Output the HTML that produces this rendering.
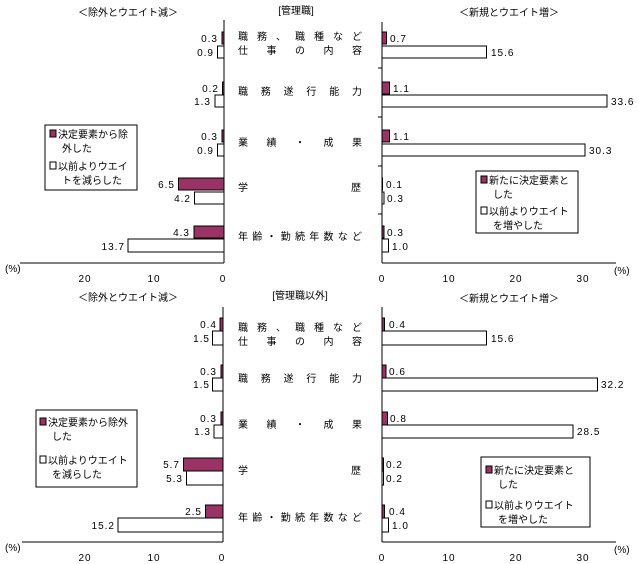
<!DOCTYPE html>
<html><head><meta charset="utf-8"><style>
html,body{margin:0;padding:0;background:#fff;}
svg{display:block;}
text{font-family:"Liberation Sans","Noto Sans CJK JP",sans-serif;font-size:10px;fill:#000;}
.v{font-family:"Liberation Mono",monospace;font-size:10px;letter-spacing:1px;}
.c{font-size:11px;}
</style></head><body>
<svg width="639" height="564" viewBox="0 0 639 564" xmlns="http://www.w3.org/2000/svg">
<g stroke="#000" stroke-width="1" shape-rendering="crispEdges">
<!-- TOP -->
<line x1="224" y1="20" x2="224" y2="263"/><line x1="20" y1="263" x2="224" y2="263"/>
<line x1="382" y1="22" x2="382" y2="263"/><line x1="382" y1="263" x2="616" y2="263"/>
<line x1="378" y1="68" x2="382" y2="68"/><line x1="378" y1="117" x2="382" y2="117"/><line x1="378" y1="166" x2="382" y2="166"/><line x1="378" y1="214" x2="382" y2="214"/>
<g fill="#993366">
<rect x="221.9" y="32" width="2.1" height="12"/><rect x="222.6" y="82" width="1.4" height="12"/><rect x="221.9" y="130" width="2.1" height="12"/><rect x="178.5" y="178" width="45.5" height="12"/><rect x="193.9" y="226" width="30.1" height="12"/>
<rect x="382" y="32" width="4.7" height="12"/><rect x="382" y="82" width="7.4" height="12"/><rect x="382" y="130" width="7.4" height="12"/><rect x="382" y="178" width="0.7" height="12"/><rect x="382" y="226" width="2" height="12"/>
</g>
<g fill="#fff">
<rect x="217.7" y="46" width="6.3" height="12"/><rect x="214.9" y="95" width="9.1" height="12"/><rect x="217.7" y="144" width="6.3" height="12"/><rect x="194.6" y="192" width="29.4" height="12"/><rect x="128.1" y="239" width="95.9" height="13"/>
<rect x="382" y="46" width="104.5" height="12"/><rect x="382" y="95" width="225.1" height="12"/><rect x="382" y="144" width="203" height="12"/><rect x="382" y="192" width="2" height="12"/><rect x="382" y="239" width="6.7" height="13"/>
</g>
<rect x="45" y="125" width="92" height="65" fill="#fff"/>
<rect x="476" y="171" width="102" height="62" fill="#fff"/>
<!-- BOTTOM -->
<line x1="223" y1="307" x2="223" y2="542"/><line x1="22" y1="542" x2="223" y2="542"/>
<line x1="382" y1="307" x2="382" y2="542"/><line x1="382" y1="542" x2="616" y2="542"/>
<g fill="#993366">
<rect x="220.2" y="318" width="2.8" height="13"/><rect x="220.9" y="365" width="2.1" height="13"/><rect x="220.9" y="412" width="2.1" height="13"/><rect x="183.7" y="458" width="39.3" height="13"/><rect x="205.7" y="505" width="17.3" height="13"/>
<rect x="382" y="318" width="2.7" height="13"/><rect x="382" y="365" width="4" height="13"/><rect x="382" y="412" width="5.4" height="13"/><rect x="382" y="458" width="1.3" height="13"/><rect x="382" y="505" width="2.7" height="13"/>
</g>
<g fill="#fff">
<rect x="212.6" y="331" width="10.4" height="14"/><rect x="212.6" y="378" width="10.4" height="13"/><rect x="214" y="425" width="9" height="13"/><rect x="186.4" y="471" width="36.6" height="14"/><rect x="118.1" y="518" width="104.9" height="14"/>
<rect x="382" y="331" width="104.5" height="14"/><rect x="382" y="378" width="215.7" height="13"/><rect x="382" y="425" width="191" height="13"/><rect x="382" y="471" width="1.3" height="14"/><rect x="382" y="518" width="6.7" height="14"/>
</g>
<rect x="36" y="410" width="101" height="77" fill="#fff"/>
<rect x="481" y="457" width="109" height="70" fill="#fff"/>
</g>
<!-- legend swatches -->
<g stroke="#000" stroke-width="1" shape-rendering="crispEdges">
<rect x="50" y="130" width="6" height="7" fill="#993366"/><rect x="50" y="162" width="6" height="7" fill="#fff"/>
<rect x="481" y="176" width="6" height="7" fill="#993366"/><rect x="481" y="207" width="6" height="7" fill="#fff"/>
<rect x="40" y="418" width="6" height="7" fill="#993366"/><rect x="40" y="456" width="6" height="7" fill="#fff"/>
<rect x="486" y="466" width="6" height="7" fill="#993366"/><rect x="486" y="501" width="6" height="7" fill="#fff"/>
</g>
<!-- legend text -->
<text x="58" y="138">決定要素から除</text><text x="62" y="152">外した</text>
<text x="58" y="170">以前よりウエイ</text><text x="62" y="184">トを減らした</text>
<text x="489" y="184">新たに決定要素と</text><text x="493" y="198">した</text>
<text x="489" y="215">以前よりウエイト</text><text x="493" y="229">を増やした</text>
<text x="48" y="426">決定要素から除外</text><text x="52" y="440">した</text>
<text x="48" y="464">以前よりウエイト</text><text x="52" y="478">を減らした</text>
<text x="494" y="474">新たに決定要素と</text><text x="498" y="488">した</text>
<text x="494" y="509">以前よりウエイト</text><text x="498" y="523">を増やした</text>
<!-- titles -->
<text x="128" y="16" text-anchor="middle">＜除外とウエイト減＞</text>
<text x="296" y="14" text-anchor="middle">[管理職]</text>
<text x="509" y="16" text-anchor="middle">＜新規とウエイト増＞</text>
<text x="128" y="301" text-anchor="middle">＜除外とウエイト減＞</text>
<text x="300" y="299" text-anchor="middle">[管理職以外]</text>
<text x="509" y="302" text-anchor="middle">＜新規とウエイト増＞</text>
<!-- category labels -->
<g class="c">
<text x="238" y="40" textLength="124" lengthAdjust="spacing">職務、職種など</text>
<text x="238" y="54" textLength="124" lengthAdjust="spacing">仕事の内容</text>
<text x="238" y="95" textLength="124" lengthAdjust="spacing">職務遂行能力</text>
<text x="238" y="146" textLength="124" lengthAdjust="spacing">業績・成果</text>
<text x="238" y="191">学</text><text x="351" y="191">歴</text>
<text x="238" y="240" textLength="124" lengthAdjust="spacing">年齢・勤続年数など</text>
<text x="238" y="331" textLength="124" lengthAdjust="spacing">職務、職種など</text>
<text x="238" y="345" textLength="124" lengthAdjust="spacing">仕事の内容</text>
<text x="238" y="382" textLength="124" lengthAdjust="spacing">職務遂行能力</text>
<text x="238" y="428" textLength="124" lengthAdjust="spacing">業績・成果</text>
<text x="238" y="474">学</text><text x="351" y="474">歴</text>
<text x="238" y="521" textLength="124" lengthAdjust="spacing">年齢・勤続年数など</text>
</g>
<!-- values -->
<g class="v" text-anchor="end">
<text x="218" y="42">0.3</text><text x="214" y="56">0.9</text>
<text x="219" y="92">0.2</text><text x="211" y="105">1.3</text>
<text x="218" y="140">0.3</text><text x="214" y="154">0.9</text>
<text x="175" y="188">6.5</text><text x="191" y="202">4.2</text>
<text x="190" y="236">4.3</text><text x="125" y="250">13.7</text>
<text x="217" y="328">0.4</text><text x="210" y="342">1.5</text>
<text x="217" y="375">0.3</text><text x="210" y="388">1.5</text>
<text x="217" y="422">0.3</text><text x="211" y="435">1.3</text>
<text x="180" y="468">5.7</text><text x="183" y="482">5.3</text>
<text x="202" y="515">2.5</text><text x="115" y="529">15.2</text>
</g>
<g class="v">
<text x="390" y="42">0.7</text><text x="491" y="56">15.6</text>
<text x="393" y="92">1.1</text><text x="611" y="105">33.6</text>
<text x="393" y="140">1.1</text><text x="589" y="154">30.3</text>
<text x="386" y="188">0.1</text><text x="387" y="202">0.3</text>
<text x="387" y="236">0.3</text><text x="392" y="250">1.0</text>
<text x="389" y="328">0.4</text><text x="491" y="342">15.6</text>
<text x="389" y="375">0.6</text><text x="601" y="388">32.2</text>
<text x="390" y="422">0.8</text><text x="577" y="435">28.5</text>
<text x="386" y="468">0.2</text><text x="386" y="482">0.2</text>
<text x="389" y="515">0.4</text><text x="392" y="529">1.0</text>
</g>
<!-- axis labels -->
<g class="v" text-anchor="middle">
<text x="85" y="282">20</text><text x="154" y="282">10</text><text x="223" y="282">0</text>
<text x="382" y="282">0</text><text x="449" y="282">10</text><text x="516" y="282">20</text><text x="583" y="282">30</text>
<text x="85" y="561">20</text><text x="154" y="561">10</text><text x="222" y="561">0</text>
<text x="382" y="561">0</text><text x="449" y="561">10</text><text x="516" y="561">20</text><text x="583" y="561">30</text>
</g>
<text x="5" y="272">(%)</text><text x="614" y="274">(%)</text>
<text x="5" y="551">(%)</text><text x="614" y="553">(%)</text>
</svg>
</body></html>
